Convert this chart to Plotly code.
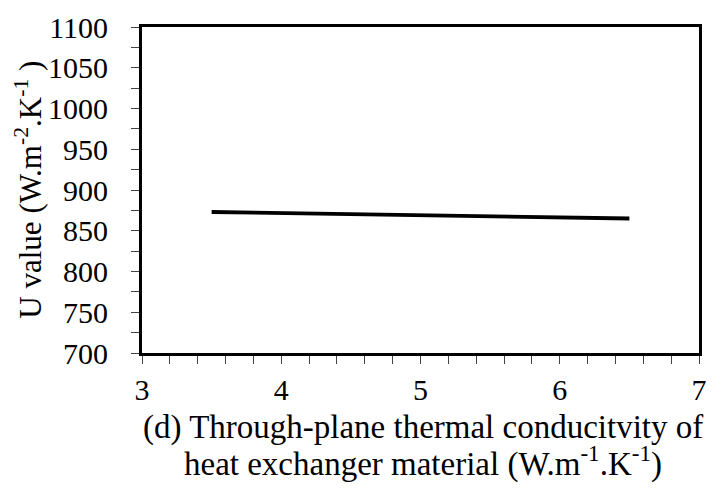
import plotly.graph_objects as go

# Through-plane thermal conductivity (W/m.K) and resulting U value (W/m2.K)
conductivity = [3.5, 6.5]
u_value = [873, 865]

x_ticks = [3, 4, 5, 6, 7]
y_ticks = [700, 750, 800, 850, 900, 950, 1000, 1050, 1100]

x_title_lines = [
    "(d) Through-plane thermal conducitvity of",
    "heat exchanger material (W.m<sup>-1</sup>.K<sup>-1</sup>)",
]
y_title = "U value (W.m<sup>-2</sup>.K<sup>-1</sup> )"

font_family = "Liberation Serif"
W, H = 717, 495
M_L, M_R, M_T, M_B = 142, 10, 21, 142
plot_w = W - M_L - M_R
plot_h = H - M_T - M_B

fig = go.Figure()
fig.add_trace(go.Scatter(
    x=conductivity, y=u_value, mode="lines",
    line=dict(color="black", width=3.8),
    showlegend=False,
))

axis_common = dict(
    showline=True, linecolor="black", linewidth=2.8, mirror=True,
    showgrid=False, zeroline=False,
    ticks="outside", ticklen=8, tickwidth=1.2, tickcolor="#444",
    tickfont=dict(family=font_family, size=30, color="black"),
)

fig.update_xaxes(
    range=[3, 7], tickvals=x_ticks,
    minor=dict(dtick=0.2, ticks="outside", ticklen=8, tickwidth=1.2, tickcolor="#444"),
    ticklabelstandoff=0,
    **axis_common,
)
fig.update_yaxes(
    range=[700, 1100], tickvals=y_ticks,
    minor=dict(dtick=25, ticks="outside", ticklen=8, tickwidth=1.2, tickcolor="#444"),
    ticklabelstandoff=17,
    **axis_common,
)

# Two-line x-axis title centred under the plot area, tight line spacing
for text, y_px in zip(x_title_lines, [429, 463]):
    fig.add_annotation(
        text=text, showarrow=False,
        xref="paper", yref="paper",
        x=(427 - M_L) / plot_w, y=(H - M_B - y_px) / plot_h,
        xanchor="center", yanchor="middle",
        font=dict(family=font_family, size=33, color="black"),
    )

# Rotated y-axis title
fig.add_annotation(
    text=y_title, showarrow=False, textangle=-90,
    xref="paper", yref="paper",
    x=(26 - M_L) / plot_w, y=0.5,
    xanchor="center", yanchor="middle",
    font=dict(family=font_family, size=31, color="black"),
)

fig.update_layout(
    width=W, height=H,
    margin=dict(l=M_L, r=M_R, t=M_T, b=M_B),
    plot_bgcolor="white", paper_bgcolor="white",
)

fig.write_html("out.html")
